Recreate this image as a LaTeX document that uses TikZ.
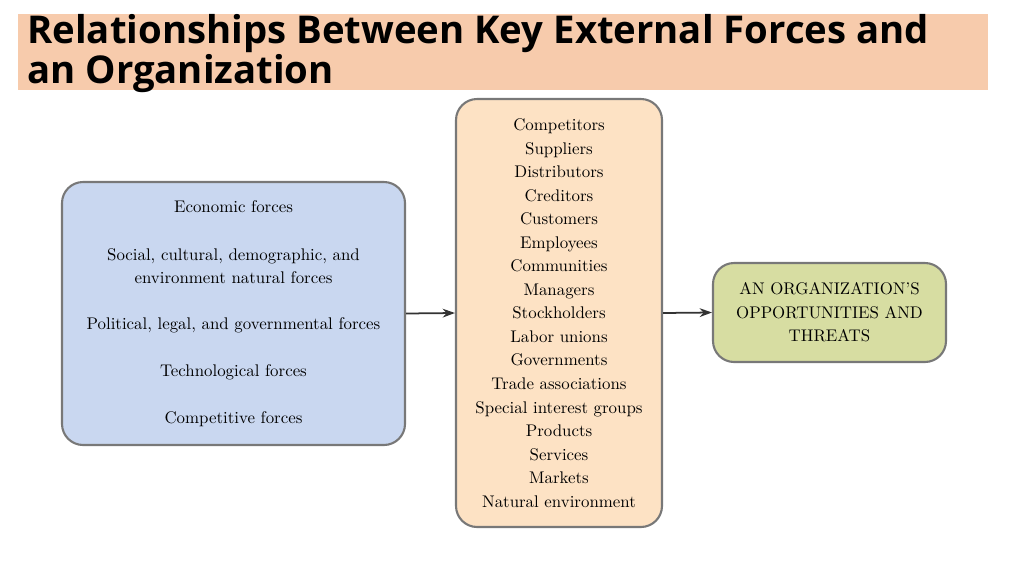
\documentclass[tikz,border=0pt]{standalone}
\usepackage{fontspec}
\newfontfamily\titlefont{Open Sans}
\usetikzlibrary{positioning,arrows.meta}
\definecolor{titlebg}{RGB}{247,203,172}
\definecolor{forcebg}{RGB}{201,215,240}
\definecolor{stakebg}{RGB}{253,226,196}
\definecolor{outbg}{RGB}{215,221,162}
\definecolor{boxline}{RGB}{120,120,120}
\tikzset{
  box/.style={draw=boxline, line width=1.2pt, rounded corners=12pt, align=center,
    font=\fontsize{9.6}{13.4}\selectfont, inner sep=0pt},
  flow/.style={-{Stealth[length=7pt,width=5pt]}, line width=1pt, draw=black!80}
}
\begin{document}
\begin{tikzpicture}[x=0.02cm,y=-0.02cm]
\useasboundingbox (0,0) rectangle (1024,575);
% title band
\fill[titlebg] (18,14) rectangle (988,90);
\node[anchor=north west, align=left, inner sep=0pt, font=\titlefont\bfseries\fontsize{21.8}{22.7}\selectfont]
  (title) at (27,14) {Relationships Between Key External Forces and\\an Organization};
% the three boxes
\node[box, fill=forcebg, minimum width=343*0.02cm, minimum height=263*0.02cm] (forces) at (233.5,313.5)
  {Economic forces\\[13.8pt]
   Social, cultural, demographic, and\\environment natural forces\\[12.4pt]
   Political, legal, and governmental forces\\[13.6pt]
   Technological forces\\[13.2pt]
   Competitive forces};
\node[box, fill=stakebg, minimum width=206*0.02cm, minimum height=428*0.02cm] (stakeholders) at (559,313)
  {Competitors\\Suppliers\\Distributors\\Creditors\\Customers\\Employees\\Communities\\Managers\\
   Stockholders\\Labor unions\\Governments\\Trade associations\\Special interest groups\\
   Products\\Services\\Markets\\Natural environment};
\node[box, fill=outbg, minimum width=233*0.02cm, minimum height=99*0.02cm] (org) at (829.5,312.5)
  {AN ORGANIZATION'S\\OPPORTUNITIES AND\\THREATS};
% arrows
\draw[flow] (forces.east) -- (stakeholders.west);
\draw[flow] (stakeholders.east) -- (org.west);
\end{tikzpicture}
\end{document}
